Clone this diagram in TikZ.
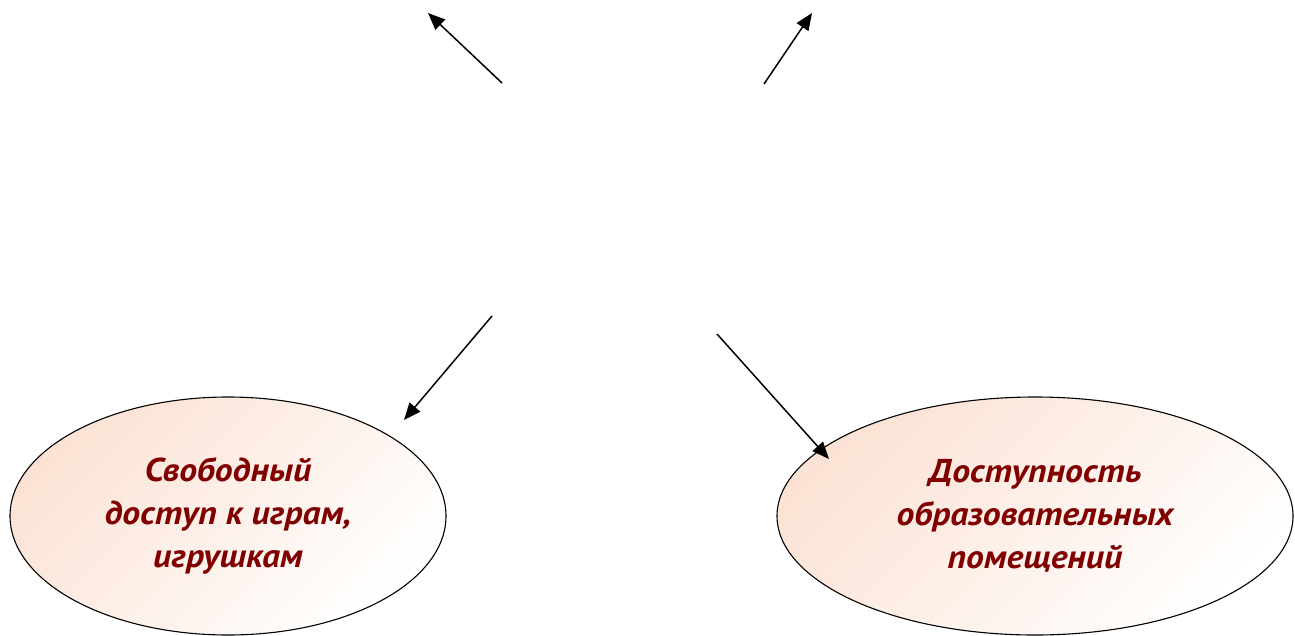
\documentclass[tikz,border=0pt]{standalone}
\usepackage{fontspec}
\setmainfont[FakeStretch=1.08]{PT Sans}
\usetikzlibrary{shapes.geometric,arrows.meta}
\definecolor{peach}{RGB}{251,226,212}
\definecolor{darkred}{RGB}{128,0,0}
\tikzset{
  oval/.style={ellipse, draw=black, line width=1.1pt, inner sep=0pt,
    top color=peach, bottom color=white, shading angle=45,
    text=darkred, font=\bfseries\itshape\fontsize{33}{43}\selectfont, align=center},
  arr/.style={line width=1.5pt, -{Triangle[length=17pt,width=14pt]}}
}
\begin{document}
\begin{tikzpicture}[x=1pt,y=-1pt]
\useasboundingbox (0,0) rectangle (1295,635);
\node[oval, minimum width=436pt, minimum height=238pt] (left) at (228,516)
  {Свободный\\доступ к играм,\\игрушкам};
\node[oval, minimum width=516pt, minimum height=238pt] (right) at (1035,516)
  {Доступность\\образовательных\\помещений};
\coordinate (s1) at (502,83);  \coordinate (t1) at (428,13);
\coordinate (s2) at (764,84);  \coordinate (t2) at (812,13);
\coordinate (s3) at (492,316); \coordinate (t3) at (404,420);
\coordinate (s4) at (717,334); \coordinate (t4) at (829,459);
\draw[arr] (s1) -- (t1);
\draw[arr] (s2) -- (t2);
\draw[arr] (s3) -- (t3);
\draw[arr] (s4) -- (t4);
\end{tikzpicture}
\end{document}
